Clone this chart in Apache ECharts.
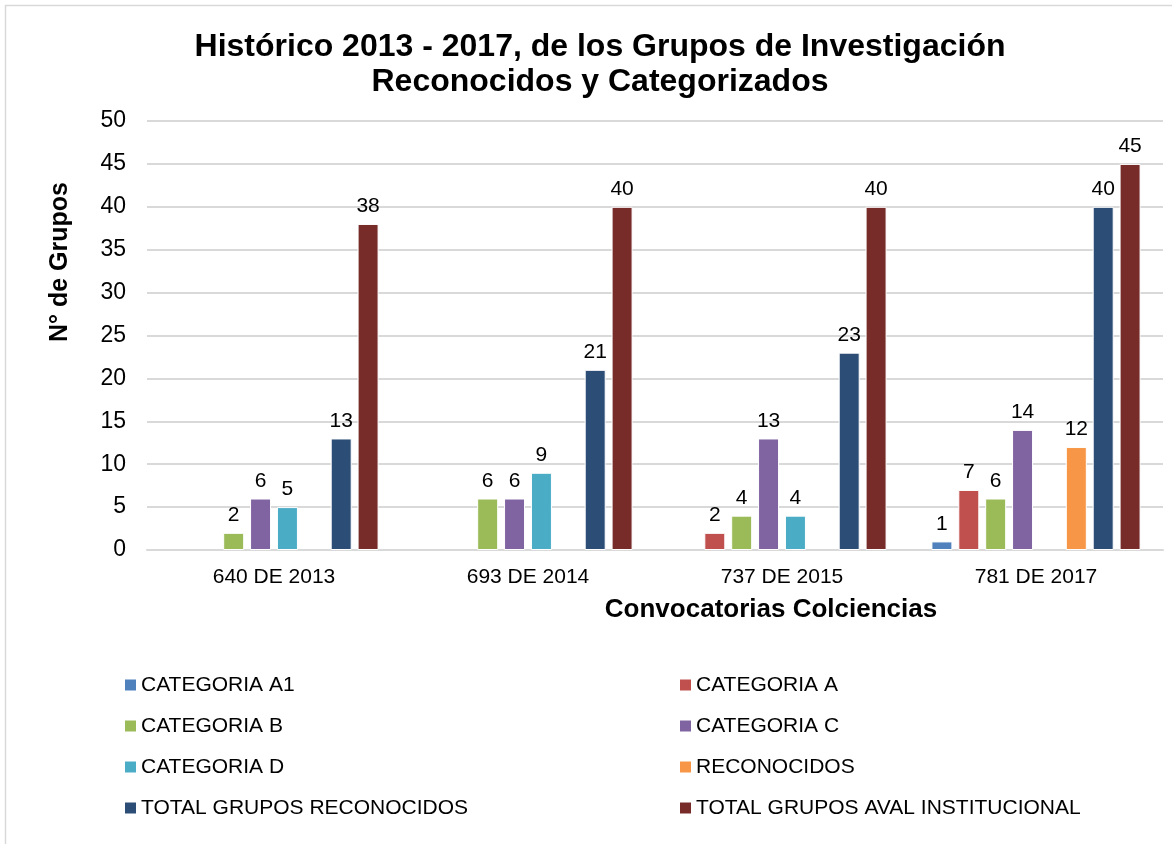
<!DOCTYPE html>
<html>
<head>
<meta charset="utf-8">
<script src="https://cdn.jsdelivr.net/npm/echarts@6/dist/echarts.min.js"></script>
<style>
  html, body { margin: 0; padding: 0; background: #fff; }
  #main { width: 1172px; height: 844px; }
</style>
</head>
<body>
<div id="main"></div>
<script>
// datos
var convocatorias = ['640 DE 2013', '693 DE 2014', '737 DE 2015', '781 DE 2017'];
var catA1 = [null, null, null, 1];
var catA = [null, null, 2, 7];
var catB = [2, 6, 4, 6];
var catC = [6, 6, 13, 14];
var catD = [5, 9, 4, null];
var reconocidos = [null, null, null, 12];
var totalReconocidos = [13, 21, 23, 40];
var totalAval = [38, 40, 40, 45];
var yTicks = [0, 5, 10, 15, 20, 25, 30, 35, 40, 45, 50];

var nombres = ['CATEGORIA A1', 'CATEGORIA A', 'CATEGORIA B', 'CATEGORIA C', 'CATEGORIA D',
  'RECONOCIDOS', 'TOTAL GRUPOS RECONOCIDOS', 'TOTAL GRUPOS AVAL INSTITUCIONAL'];
var colores = ['#4F81BD', '#C0504D', '#9BBB59', '#8064A2', '#4BACC6', '#F79646', '#2C4D75', '#772C2A'];
var valores = [catA1, catA, catB, catC, catD, reconocidos, totalReconocidos, totalAval];

var fuente = 'Arial, "Liberation Sans", sans-serif';

var myChart = echarts.init(document.getElementById('main'));

var series = nombres.map(function (n, i) {
  return {
    name: n,
    type: 'bar',
    data: valores[i],
    barWidth: 21,
    barGap: '28%',
    itemStyle: { color: colores[i], borderColor: '#fff', borderWidth: 1 },
    label: {
      show: true,
      position: 'top',
      distance: 7,
      color: '#000',
      fontSize: 21,
      fontFamily: fuente
    }
  };
});

var legendText = { color: '#000', fontSize: 21, fontFamily: fuente, lineHeight: 22 };

var option = {
  animation: false,
  color: colores,
  title: {
    text: 'Histórico 2013 - 2017, de los Grupos de Investigación\nReconocidos y Categorizados',
    left: 595,
    top: 25,
    textAlign: 'center',
    textStyle: { fontSize: 32, fontWeight: 'bold', color: '#000', fontFamily: fuente, lineHeight: 35 }
  },
  legend: [
    {
      data: [nombres[0], nombres[2], nombres[4], nombres[6]],
      orient: 'vertical',
      left: 120,
      top: 669,
      icon: 'rect',
      itemWidth: 11,
      itemHeight: 11,
      itemGap: 19,
      itemStyle: { borderWidth: 0 },
      textStyle: legendText
    },
    {
      data: [nombres[1], nombres[3], nombres[5], nombres[7]],
      orient: 'vertical',
      left: 675,
      top: 669,
      icon: 'rect',
      itemWidth: 11,
      itemHeight: 11,
      itemGap: 19,
      itemStyle: { borderWidth: 0 },
      textStyle: legendText
    }
  ],
  grid: { left: 147, right: 9, top: 121, bottom: 294 },
  xAxis: {
    type: 'category',
    data: convocatorias,
    axisLine: { show: true, lineStyle: { color: '#d9d9d9', width: 2 } },
    axisTick: { show: false },
    axisLabel: { color: '#000', fontSize: 21, fontFamily: fuente, margin: 17 }
  },
  yAxis: {
    type: 'value',
    min: yTicks[0],
    max: yTicks[yTicks.length - 1],
    interval: 5,
    axisLine: { show: false },
    axisTick: { show: false },
    splitLine: { lineStyle: { color: '#d9d9d9', width: 2 } },
    axisLabel: { color: '#000', fontSize: 23, fontFamily: fuente, margin: 21 }
  },
  graphic: [
    {
      type: 'rect',
      shape: { x: 5.5, y: 5.5, width: 1200, height: 900 },
      style: { fill: null, stroke: '#d9d9d9', lineWidth: 1.5 },
      silent: true
    },
    {
      type: 'text',
      x: 60,
      y: 262,
      rotation: Math.PI / 2,
      style: {
        text: 'N° de Grupos',
        fill: '#000',
        font: 'bold 25px ' + fuente,
        textAlign: 'center',
        textVerticalAlign: 'middle'
      }
    },
    {
      type: 'text',
      x: 771,
      y: 610,
      style: {
        text: 'Convocatorias Colciencias',
        fill: '#000',
        font: 'bold 26px ' + fuente,
        textAlign: 'center',
        textVerticalAlign: 'middle'
      }
    }
  ],
  series: series
};

myChart.setOption(option);
</script>
</body>
</html>
